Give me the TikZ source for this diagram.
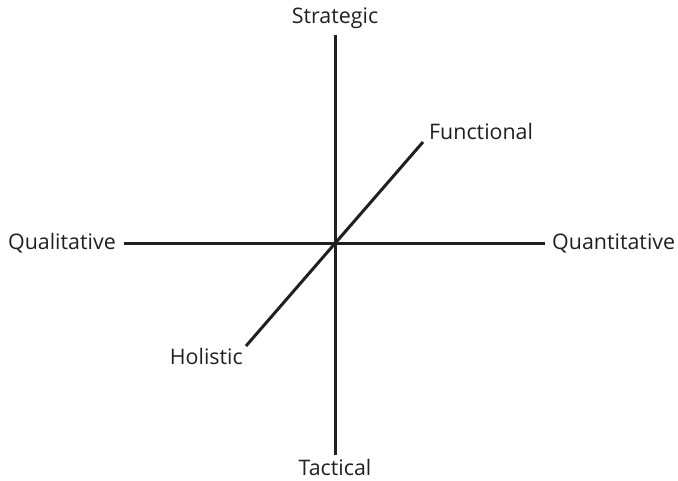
\documentclass[tikz,border=0pt]{standalone}
\usepackage{fontspec}
\setmainfont{Open Sans}
\definecolor{ink}{HTML}{231F20}
\begin{document}
\begin{tikzpicture}[x=1pt,y=-1pt,
  axis/.style={draw=ink,line width=3pt},
  lbl/.style={inner sep=0pt,text=ink,font=\fontsize{21.4}{25}\selectfont}]
\useasboundingbox (0,0) rectangle (678,480);
\coordinate (top) at (335,35);
\coordinate (bot) at (335,455);
\coordinate (lft) at (124,243);
\coordinate (rgt) at (545,243);
\coordinate (ne) at (423,142);
\coordinate (sw) at (246,346);
\draw[axis] (top) -- (bot);
\draw[axis] (lft) -- (rgt);
\draw[axis] (sw) -- (ne);
\node[lbl] (strat) at (335,18) {Strategic};
\node[lbl] (tact) at (335,467) {Tactical};
\node[lbl,anchor=east] (qual) at (116,243) {Qualitative};
\node[lbl,anchor=west] (quan) at (552,243) {Quantitative};
\node[lbl,anchor=west] (func) at (429,131) {Functional};
\node[lbl,anchor=east] (hol) at (243,356) {Holistic};
\end{tikzpicture}
\end{document}
